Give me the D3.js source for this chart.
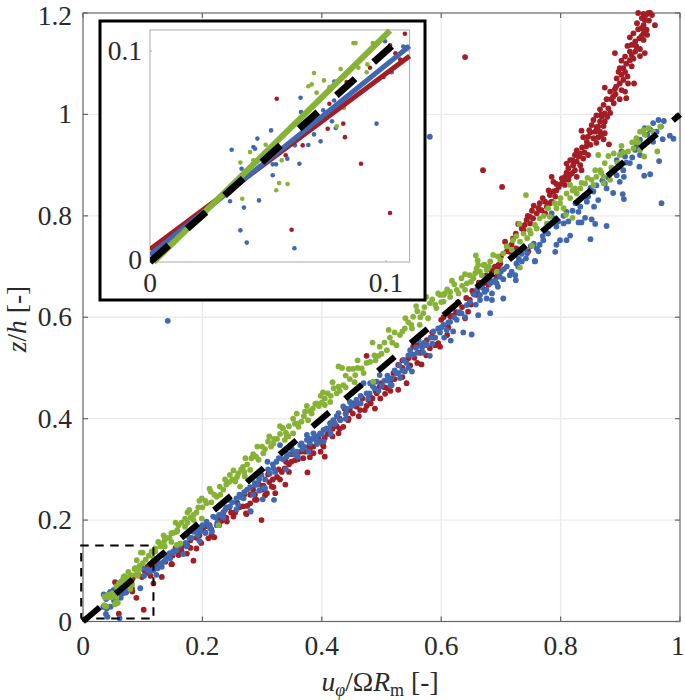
<!DOCTYPE html>
<html><head><meta charset="utf-8">
<script src="https://cdn.jsdelivr.net/npm/d3@7"></script>
<style>html,body{margin:0;padding:0;background:#fff}svg{display:block}
text{font-family:"Liberation Serif",serif;fill:#2a2a2a}</style></head><body><svg id="c" width="685" height="700"></svg>
<script>
const xTicks=[0,0.2,0.4,0.6,0.8,1];
const yTicks=[0,0.2,0.4,0.6,0.8,1,1.2];
const insetTicks=[0,0.1];
const colorRed="#a31d25", colorBlue="#3f68b0", colorGreen="#86b236";
// near-origin points, visible in both panels
const lowRed=[[.0537,.0774],[.108,.1082],[.06,.0153],[.1017,.0232],[.0894,.0466],[.0826,.0592],[.0819,.0656],[.0753,.0632],[.0647,.0553],[.0575,.0506],[.076,.075],[.0932,.0921],[.1017,.1027],[.0989,.0877],[.0833,.0853],[.104,.099],[.106,.096]];
const lowBlue=[[.0346,.0532],[.0455,.0585],[.0438,.0545],[.0445,.0537],[.0513,.0624],[.0638,.0779],[.064,.0711],[.096,.0656],[.0388,.0442],[.052,.0463],[.0534,.0463],[.0582,.049],[.0633,.0466],[.052,.0411],[.0339,.0288],[.0462,.0292],[.0398,.0258],[.0383,.015],[.041,.0092],[.0612,.0065],[.0671,.0555],[.0695,.0605],[.0723,.0572],[.0771,.0667],[.0787,.0635],[.0734,.0719],[.078,.0766],[.0781,.0856],[.0996,.1047],[.1024,.09],[.1073,.1022],[.1088,.1019],[.0614,.0553]];
const lowGreen=[[.0383,.0472],[.0424,.0521],[.049,.0556],[.0558,.0482],[.0547,.0374],[.0583,.037],[.0535,.034],[.0391,.03],[.0671,.0833],[.0685,.0842],[.0695,.0896],[.0737,.0861],[.0706,.0803],[.0808,.0915],[.0862,.1038],[.0871,.1038],[.0944,.1038],[.0791,.0643],[.0921,.0937],[.0822,.0731],[.0918,.09],[.076,.0829],[.0438,.0482],[.0883,.0921]];
const highRed=[[.93,1.2],[.939,1.198],[.947,1.2],[.953,1.196],[.95,1.2],[.943,1.196],[.936,1.19],[.941,1.186],[.958,1.176],[.939,1.176],[.936,1.17],[.944,1.167],[.93,1.168],[.939,1.16],[.945,1.157],[.936,1.155],[.916,1.152],[.939,1.147],[.925,1.144],[.919,1.137],[.927,1.134],[.933,1.129],[.916,1.124],[.925,1.124],[.941,1.121],[.891,1.121],[.919,1.117],[.933,1.115],[.908,1.114],[.902,1.106],[.916,1.107],[.919,1.095],[.905,1.091],[.899,1.091],[.897,1.084],[.908,1.084],[.902,1.078],[.894,1.071],[.905,1.068],[.913,1.061],[.923,1.061],[.899,1.061],[.874,1.053],[.891,1.05],[.883,1.045],[.902,1.048],[.908,1.045],[.888,1.035],[.899,1.03],[.91,1.032],[.877,1.03],[.889,1.022],[.872,1.019],[.88,1.012],[.866,1.01],[.874,1.002],[.883,1.003],[.869,.996],[.855,.989],[.866,.986],[.874,.986],[.863,.976],[.852,.979],[.872,.977],[.848,.969],[.835,.968],[.858,.966],[.866,.966],[.874,.963],[.838,.955],[.846,.956],[.855,.953],[.863,.955],[.872,.951],[.844,.946],[.86,.944],[.881,.941],[.843,.937],[.827,.929],[.833,.923],[.846,.92],[.824,.92],[.83,.917],[.838,.913],[.816,.91],[.827,.907],[.81,.903],[.821,.9],[.833,.9],[.813,.894],[.824,.89],[.819,.884],[.807,.877],[.827,.877],[.802,.874],[.813,.871],[.785,.877],[.788,.867],[.793,.863],[.802,.864],[.807,.861],[.788,.848],[.793,.85],[.782,.841],[.791,.838],[.774,.828],[.785,.828],[.765,.825],[.777,.818],[.763,.815],[.752,.81],[.768,.811],[.76,.805],[.774,.805],[.749,.798],[.754,.795],[.743,.792],[.729,.784],[.74,.782],[.749,.785],[.738,.772],[.707,.749],[.718,.743],[.715,.729],[.726,.736],[.699,.706],[.696,.7],[.685,.69],[.693,.68],[.671,.667],[.679,.664],[.659,.644],
[.64,1.113],[.67,.89],[.702,.857],
[.746,.73],[.696,.703],[.687,.693],[.665,.66],[.654,.647],[.648,.634],[.645,.611],[.64,.598],[.631,.608],[.604,.6],[.598,.542],[.595,.549],[.581,.539],[.567,.507],[.576,.555],[.553,.542],[.545,.519],[.528,.506],[.542,.47],[.528,.457],[.506,.449],[.497,.463],[.489,.42],[.481,.443],[.472,.417],[.464,.417],[.478,.437],[.458,.424],[.447,.417],[.444,.397],[.436,.384],[.428,.371],[.414,.391],[.403,.345],[.386,.345],[.475,.524],
[.405,.325],[.402,.348],[.386,.332],[.38,.324],[.369,.322],[.376,.294],[.358,.332],[.349,.315],[.338,.302],[.339,.27],[.333,.295],[.319,.265],[.316,.266],[.305,.249],[.291,.24],[.299,.2],[.28,.233],[.274,.212],[.268,.227],[.252,.207],[.241,.197],[.229,.2],[.218,.167],[.21,.164],[.201,.181],[.19,.144],[.185,.12],[.174,.134],[.16,.131],[.148,.113],[.132,.131],[.118,.075],[.132,.088],[.149,.113],[.22,.166],[.322,.253],[.308,.253],[.273,.213],[.288,.24],
[.62,.603],[.612,.58],[.588,.56],[.565,.53],[.555,.52],[.535,.5],[.52,.49],[.515,.475],[.5,.47],[.51,.46],[.492,.45],[.485,.44],[.46,.43],[.452,.41],[.44,.41],[.43,.4],[.42,.395],[.41,.37],[.395,.36],[.378,.345],[.365,.335],[.35,.33],[.345,.31],[.328,.3],[.31,.29],[.295,.27],[.285,.26],[.27,.25],[.258,.235],[.245,.225],[.235,.215],[.225,.205],[.212,.19],[.205,.175],[.195,.17],[.18,.16],[.168,.15],[.155,.145],[.14,.125],[.125,.115],
[.7,.72],[.71,.73],[.68,.675],[.672,.655],[.66,.65],[.65,.625],[.635,.62],[.625,.61],
[.928,1.18],[.948,1.185],[.922,1.16],[.932,1.15],[.912,1.135],[.922,1.11],[.91,1.1],[.912,1.075],[.893,1.055],[.885,1.03],[.892,1.04],[.868,1.0],[.86,.998],[.878,.995],[.86,.975],[.85,.965],[.868,.96],[.85,.94],[.836,.935],[.84,.925],[.82,.91],[.835,.89],[.815,.88],[.805,.87],[.797,.857],[.81,.885],[.78,.85],[.77,.835],[.782,.825],[.755,.82],[.745,.8],[.735,.775],[.725,.765],[.72,.755],[.71,.74],[.69,.7],[.675,.682],[.663,.668],[.652,.652],[.642,.638],[.628,.63],[.615,.602],[.6,.595],[.585,.57],[.57,.548],[.56,.545],[.548,.505],[.535,.515],[.522,.478],[.505,.462],[.49,.455],[.475,.425],[.468,.44],[.452,.43],[.438,.42],[.425,.385],[.418,.38],[.405,.362],[.392,.355],[.372,.335],[.355,.318],[.34,.315],[.325,.285],[.312,.275],[.3,.26],[.28,.25],[.262,.225],[.248,.215],[.232,.198],[.215,.182],[.208,.188],[.19,.165],[.175,.15],[.162,.14],[.15,.13],[.138,.118],[.113,.09],[.122,.105],
[.61,.565],[.59,.545],[.575,.525],[.56,.51],[.535,.482],[.515,.455],[.498,.44],[.482,.43],[.462,.405],[.445,.4],[.43,.38],[.418,.365],[.398,.335],[.38,.34],[.36,.32],[.345,.295],[.33,.28],[.318,.28],[.302,.268],[.288,.25],[.275,.228],[.255,.215],[.24,.205],[.228,.19],[.215,.17],[.198,.155],[.18,.145],[.165,.14]];
const highBlue=[[.142,.593],[.581,.956],[.969,.825],
[.964,.989],[.973,.987],[.955,.983],[.968,.976],[.941,.973],[.961,.966],[.983,.958],[.989,.952],[.971,.951],[.933,.95],[.955,.946],[.927,.937],[.939,.94],[.933,.92],[.902,.927],[.908,.917],[.916,.904],[.932,.897],[.965,.908],[.894,.91],[.899,.897],[.905,.89],[.94,.879],[.95,.882],[.894,.88],[.906,.877],[.899,.867],[.874,.864],[.877,.854],[.888,.845],[.904,.843],[.906,.833],[.863,.831],[.855,.848],[.846,.838],[.844,.828],[.856,.818],[.833,.818],[.83,.808],[.81,.808],[.841,.796],[.852,.793],[.858,.784],[.877,.78],[.835,.787],[.83,.787],[.813,.789],[.805,.785],[.796,.789],[.785,.805],[.793,.779],[.779,.765],[.816,.761],[.81,.752],[.799,.752],[.793,.743],[.85,.754],[.791,.729],[.771,.752],[.765,.743],[.76,.736],[.744,.726],[.742,.716],[.757,.71],[.726,.706],[.729,.7],[.718,.69],[.724,.683],[.725,.673],[.715,.683],[.704,.675],[.69,.673],[.682,.667],[.676,.654],[.685,.647],[.704,.637],[.665,.644],
[.763,.73],[.757,.711],[.693,.667],[.687,.67],[.673,.65],[.685,.634],[.682,.608],[.662,.604],[.651,.566],[.637,.57],[.616,.554],[.581,.524],[.551,.493],[.539,.493],[.531,.48],[.517,.466],[.517,.48],[.567,.545],[.562,.555],[.576,.545],[.548,.535],[.553,.526],[.595,.578],[.587,.572],[.604,.585],[.615,.591],[.626,.595],[.609,.575],[.634,.608],[.643,.624],[.665,.634],[.676,.637],[.525,.49],[.537,.516],[.497,.486],[.492,.473],[.481,.47],[.47,.47],[.458,.437],[.447,.433],[.436,.424],[.428,.411],[.419,.397],[.431,.397],[.408,.381],[.397,.371],[.386,.371],[.375,.358],[.364,.348],[.403,.355],[.391,.358],[.453,.427],
[.403,.378],[.391,.365],[.375,.368],[.366,.351],[.38,.351],[.397,.355],[.358,.335],[.33,.348],[.341,.325],[.324,.315],[.309,.315],[.319,.302],[.313,.292],[.299,.289],[.288,.273],[.302,.263],[.32,.24],[.301,.241],[.269,.243],[.257,.243],[.246,.227],[.257,.221],[.281,.217],[.235,.213],[.218,.207],[.207,.197],[.213,.184],[.216,.177],[.196,.184],[.185,.177],[.195,.159],[.174,.148],[.168,.133],[.151,.135],[.14,.131],[.118,.101],[.123,.092],[.132,.108],[.135,.118],[.146,.124],[.151,.138],[.157,.141],[.196,.177],[.224,.19],[.28,.217],[.288,.269],[.305,.263],
[.73,.715],[.735,.725],[.75,.74],[.705,.695],[.698,.68],[.668,.66],[.655,.645],[.648,.63],[.63,.61],[.622,.6],[.6,.58],[.59,.56],[.572,.55],[.558,.54],[.545,.525],[.53,.505],[.522,.495],[.51,.485],[.505,.475],[.488,.46],[.475,.45],[.465,.445],[.442,.42],[.425,.405],[.415,.39],[.385,.36],[.37,.345],[.35,.34],[.338,.335],[.328,.322],[.318,.31],[.295,.28],[.28,.265],[.27,.255],[.262,.25],[.25,.235],[.24,.225],[.228,.21],[.2,.19],[.19,.18],[.178,.165],[.162,.15],[.155,.14],[.128,.115],[.115,.108],
[.95,.97],[.945,.96],[.925,.93],[.92,.915],[.91,.905],[.888,.89],[.88,.875],[.87,.87],[.86,.86],[.85,.855],[.84,.84],[.825,.825],[.82,.81],[.805,.8],[.79,.795],[.775,.77],[.78,.78],[.77,.76],[.755,.745],[.74,.735],[.735,.71],[.71,.7],[.7,.69],[.695,.66],[.66,.655],[.658,.625],[.64,.6],[.612,.59],[.598,.57],[.582,.56],[.568,.54],[.56,.53],[.542,.51],[.528,.49],[.512,.475],[.5,.465],[.485,.465],[.478,.44],[.462,.43],[.45,.425],[.44,.41],[.422,.39],[.412,.38],[.4,.37],[.38,.36],[.368,.34],[.355,.33],[.345,.33],[.335,.32],[.31,.3],[.305,.28],[.292,.27],[.275,.26],[.265,.245],[.245,.24],[.238,.22],[.222,.205],[.21,.19],[.192,.17],[.182,.165],[.172,.155],[.158,.15],[.145,.135],[.138,.122],[.125,.105],[.112,.098],
[.62,.572],[.605,.56],[.585,.548],[.57,.53],[.545,.5],[.535,.495],[.515,.465],[.495,.455],[.48,.45],[.465,.43],[.44,.4],[.415,.37],[.392,.35],[.378,.335],[.36,.325],[.34,.3],[.322,.295],[.295,.258],[.285,.25],[.26,.23],[.235,.205],[.225,.195],[.205,.175]];
const highGreen=[[.742,.841],
[.939,.969],[.947,.973],[.933,.966],[.927,.953],[.925,.946],[.941,.96],[.955,.966],[.967,.976],[.953,.953],[.962,.927],[.94,.917],[.933,.93],[.922,.933],[.913,.927],[.902,.938],[.863,.92],[.88,.918],[.889,.923],[.899,.92],[.874,.904],[.866,.89],[.858,.89],[.872,.877],[.883,.871],[.86,.877],[.852,.871],[.841,.864],[.855,.861],[.872,.864],[.833,.854],[.824,.854],[.816,.861],[.827,.844],[.81,.844],[.816,.835],[.799,.825],[.805,.815],[.793,.815],[.809,.802],[.82,.796],[.779,.815],[.782,.798],[.765,.795],[.777,.785],[.757,.782],[.731,.784],[.748,.772],[.738,.765],[.726,.76],[.744,.756],[.752,.741],[.732,.749],[.718,.733],[.704,.726],[.687,.723],[.699,.713],[.658,.722],[.661,.712],[.682,.71],[.671,.703],[.659,.696],[.676,.693],[.648,.683],[.634,.677],[.618,.672],[.654,.677],[.643,.667],[.668,.683],[.732,.698],[.693,.69],[.615,.65],[.629,.647],[.606,.647],[.598,.644],[.64,.654],
[.662,.703],[.673,.703],[.64,.685],[.657,.687],[.626,.654],[.604,.644],[.595,.647],[.604,.631],[.581,.628],[.592,.618],[.57,.608],[.553,.601],[.578,.598],[.564,.585],[.539,.578],[.551,.578],[.531,.565],[.514,.56],[.525,.545],[.497,.542],[.509,.535],[.495,.524],[.481,.512],[.467,.499],[.452,.498],[.428,.503],[.434,.5],[.456,.486],[.447,.478],[.436,.466],[.428,.463],[.425,.45],[.41,.45],[.398,.445],[.414,.433],[.389,.429],[.372,.414],[.383,.41],[.366,.394],[.377,.397],[.352,.4],[.334,.382],[.352,.371],[.341,.368],[.486,.473],
[.391,.43],[.405,.427],[.361,.384],[.335,.381],[.338,.358],[.31,.355],[.319,.351],[.344,.365],[.302,.332],[.282,.322],[.294,.319],[.268,.305],[.28,.299],[.246,.289],[.26,.292],[.271,.286],[.255,.276],[.263,.266],[.229,.266],[.214,.256],[.224,.246],[.199,.243],[.207,.233],[.193,.225],[.178,.22],[.185,.21],[.171,.203],[.199,.203],[.227,.19],[.16,.19],[.171,.187],[.157,.177],[.148,.174],[.137,.161],[.126,.157],[.148,.157],[.163,.154],[.157,.151],[.137,.148],[.1,.136],[.121,.138],[.118,.125],[.09,.105],[.097,.136],[.09,.121],[.121,.144],[.129,.154],[.087,.105],[.076,.098],[.068,.088],[.065,.078],[.079,.075],[.056,.069],[.042,.052],[.036,.049],[.048,.048],[.056,.036],[.036,.032],
[.61,.655],[.622,.665],[.585,.635],[.572,.62],[.56,.612],[.545,.59],[.522,.57],[.505,.55],[.488,.525],[.475,.51],[.46,.5],[.44,.485],[.42,.46],[.405,.44],[.395,.425],[.38,.415],[.36,.39],[.345,.385],[.325,.36],[.315,.345],[.305,.34],[.29,.325],[.275,.31],[.265,.3],[.25,.28],[.24,.27],[.235,.26],[.22,.25],[.205,.238],[.19,.215],[.18,.205],[.165,.195],[.152,.175],[.14,.165],[.13,.148],[.11,.13],[.105,.122],[.1,.115],[.095,.11],[.07,.085],[.06,.075],
[.945,.945],[.93,.945],[.92,.945],[.905,.925],[.895,.905],[.885,.895],[.868,.885],[.845,.875],[.835,.865],[.82,.85],[.8,.835],[.79,.825],[.772,.8],[.76,.775],[.75,.765],[.72,.752],[.71,.74],[.695,.72],[.68,.7],[.665,.69],[.65,.67],[.635,.662],[.615,.64],[.6,.63],[.59,.625],[.565,.6],[.55,.585],[.535,.572],[.518,.55],[.5,.528],[.49,.515],[.47,.49],[.455,.472],[.44,.462],[.43,.455],[.415,.445],[.4,.432],[.385,.42],[.37,.405],[.355,.39],[.34,.372],[.33,.37],[.32,.36],[.3,.345],[.285,.33],[.27,.295],[.258,.285],[.245,.275],[.23,.25],[.215,.235],[.2,.225],[.185,.2],[.175,.195],[.158,.18],[.145,.165],[.135,.155],[.115,.138],
[.575,.64],[.558,.622],[.54,.598],[.512,.575],[.485,.55],[.46,.515],[.445,.498],[.418,.472],[.402,.452],[.375,.425],[.358,.41],[.33,.385],[.312,.365],[.292,.345],[.272,.322],[.252,.298],[.238,.28],[.212,.262],[.195,.238],[.175,.215],[.155,.195],[.135,.17]];
const lineRed=[[0,.006],[.11,.0977]];
const lineBlue=[[0,.0033],[.11,.1024]];
const lineGreen=[[.0015,0],[.1017,.1097]];
const lineInsetBlack=[[0,0],[.1024,.1024]];
const refLine=[[0,0],[1,1]];
const zoomBox=[[-.003,.006],[.118,.006],[.118,.15],[-.003,.15],[-.003,.006]];

const svg=d3.select("#c");
const x=d3.scaleLinear().domain([0,1]).range([83,680]);
const y=d3.scaleLinear().domain([0,1.2]).range([621.5,13]);
const fmt=d=>String(d);
const FS=27.5;
svg.append("g").selectAll("line").data(xTicks.slice(1,-1)).join("line")
 .attr("x1",x).attr("x2",x).attr("y1",y(0)).attr("y2",y(1.2)).attr("stroke","#ebebeb").attr("stroke-width",1.4);
svg.append("g").selectAll("line").data(yTicks.slice(1,-1)).join("line")
 .attr("y1",y).attr("y2",y).attr("x1",x(0)).attr("x2",x(1)).attr("stroke","#ebebeb").attr("stroke-width",1.4);
function box(g,xs,ys,xt,yt,col,w,tl){
 g.append("rect").attr("x",xs.range()[0]).attr("y",ys.range()[1]).attr("width",xs.range()[1]-xs.range()[0]).attr("height",ys.range()[0]-ys.range()[1]).attr("fill","none").attr("stroke",col).attr("stroke-width",w);
 const r=xs.range(), q=ys.range();
 xt.forEach(t=>{[[q[0],-tl],[q[1],tl]].forEach(([p,d])=>g.append("line").attr("x1",xs(t)).attr("x2",xs(t)).attr("y1",p).attr("y2",p+d).attr("stroke",col).attr("stroke-width",w));});
 yt.forEach(t=>{[[r[0],tl],[r[1],-tl]].forEach(([p,d])=>g.append("line").attr("y1",ys(t)).attr("y2",ys(t)).attr("x1",p).attr("x2",p+d).attr("stroke",col).attr("stroke-width",w));});
}
box(svg.append("g"),x,y,xTicks,yTicks,"#666",1.2,5);
function dots(g,pts,col,xs,ys,r){
 g.append("g").selectAll("circle").data(pts).join("circle").attr("cx",d=>xs(d[0])).attr("cy",d=>ys(d[1])).attr("r",r).attr("fill",col);
}
const main=svg.append("g");
dots(main,lowRed.concat(highRed),colorRed,x,y,2.9);
dots(main,lowBlue.concat(highBlue),colorBlue,x,y,2.9);
dots(main,lowGreen.concat(highGreen),colorGreen,x,y,2.9);
const ln=(xs,ys)=>d3.line().x(d=>xs(d[0])).y(d=>ys(d[1]));
svg.append("path").attr("d",ln(x,y)(refLine)).attr("fill","none").attr("stroke","#000").attr("stroke-width",6).attr("stroke-dasharray","22 21");
svg.append("path").attr("d",ln(x,y)(zoomBox)).attr("fill","none").attr("stroke","#000").attr("stroke-width",2).attr("stroke-dasharray","8.5 6.5");
// the last labels sit flush with the page edge, so they are kept just inside it
svg.append("g").selectAll("text").data(xTicks).join("text").attr("x",d=>Math.min(x(d),677.9)).attr("y",655).attr("text-anchor","middle").attr("font-size",FS).text(fmt);
svg.append("g").selectAll("text").data(yTicks).join("text").attr("x",72).attr("y",d=>Math.max(y(d)+9,25)).attr("text-anchor","end").attr("font-size",FS).text(fmt);
const xt=svg.append("text").attr("x",380).attr("y",691).attr("text-anchor","middle").attr("font-size",FS);
xt.append("tspan").attr("font-style","italic").text("u");
xt.append("tspan").attr("font-style","italic").attr("font-size",18).attr("dy",5).text("φ");
xt.append("tspan").attr("dy",-5).text("/Ω");
xt.append("tspan").attr("font-style","italic").text("R");
xt.append("tspan").attr("font-size",18).attr("dy",5).text("m");
xt.append("tspan").attr("dy",-5).attr("dx",7).text("[-]");
const yt=svg.append("text").attr("transform","translate(26,319) rotate(-90)").attr("text-anchor","middle").attr("font-size",FS);
yt.append("tspan").attr("font-style","italic").text("z");
yt.append("tspan").text("/");
yt.append("tspan").attr("font-style","italic").text("h");
yt.append("tspan").attr("dx",7).text("[-]");
svg.append("rect").attr("x",100).attr("y",21).attr("width",325).attr("height",279).attr("fill","#fff").attr("stroke","#000").attr("stroke-width",3);
const ix=d3.scaleLinear().domain([0,.11]).range([150,409.6]);
const iy=d3.scaleLinear().domain([0,.11]).range([262,30]);
const ins=svg.append("g");
svg.append("clipPath").attr("id","ic").append("rect").attr("x",150).attr("y",28).attr("width",262).attr("height",238);
box(ins,ix,iy,[.1],[.1],"#aaa",1,2);
const ic=ins.append("g").attr("clip-path","url(#ic)");
const insetPts=a=>a.filter(d=>d[0]<=.11&&d[1]<=.11);
dots(ic,insetPts(lowRed),colorRed,ix,iy,2.3);
dots(ic,insetPts(lowBlue),colorBlue,ix,iy,2.3);
dots(ic,insetPts(lowGreen),colorGreen,ix,iy,2.3);
[[lineRed,colorRed,5],[lineBlue,colorBlue,5],[lineGreen,colorGreen,6]].forEach(([p,c,w])=>ic.append("path").attr("d",ln(ix,iy)(p)).attr("fill","none").attr("stroke",c).attr("stroke-width",w));
ic.append("path").attr("d",ln(ix,iy)(lineInsetBlack)).attr("fill","none").attr("stroke","#000").attr("stroke-width",7).attr("stroke-dasharray","25 25");
svg.append("g").selectAll("text").data(insetTicks).join("text").attr("x",ix).attr("y",292).attr("text-anchor","middle").attr("font-size",FS).text(fmt);
svg.append("g").selectAll("text").data(insetTicks).join("text").attr("x",142).attr("y",d=>iy(d)+(d?9:7)).attr("text-anchor","end").attr("font-size",FS).text(fmt);
</script></body></html>
